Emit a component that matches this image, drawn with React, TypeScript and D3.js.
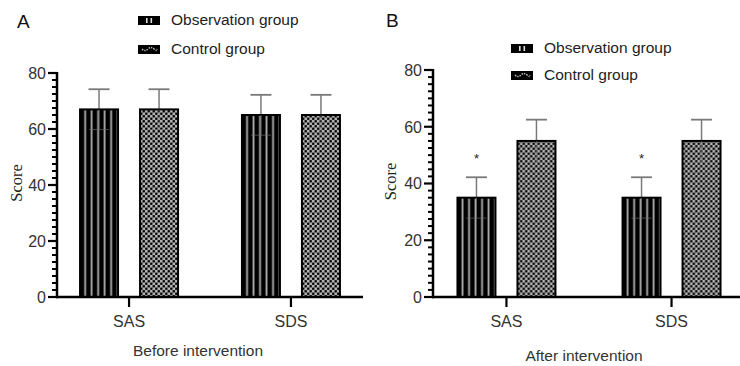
import React from 'react'
import * as d3 from 'd3'

const categories = ['SAS', 'SDS']
const groups = ['Observation group', 'Control group']

const beforeMeans = [
  [67, 67],
  [65, 65],
]
const beforeSd = [
  [7.2, 7.2],
  [7.2, 7.2],
]
const afterMeans = [
  [35, 55],
  [35, 55],
]
const afterSd = [
  [7.2, 7.5],
  [7.2, 7.5],
]
const afterStars = [
  [true, false],
  [true, false],
]
const yTicks = [0, 20, 40, 60, 80]

const sans = 'Liberation Sans, Arial, sans-serif'
const serif = 'Liberation Serif, Times New Roman, serif'

type PanelProps = {
  id: string
  letter: string
  letterPos: [number, number]
  xTitle: string
  xTitlePos: [number, number]
  axisX: [number, number]
  axisY: [number, number]
  means: number[][]
  sds: number[][]
  stars?: boolean[][]
  legendX: number
  legendY: [number, number]
  scoreX: number
}

const Panel = ({ id, letter, letterPos, xTitle, xTitlePos, axisX, axisY, means, sds, stars, legendX, legendY, scoreX }: PanelProps) => {
  const y = d3.scaleLinear().domain([0, 80]).range(axisY)
  const x = d3.scalePoint<string>().domain(categories).range(axisX).padding(0.445)
  const inner = d3.scaleBand<string>().domain(groups).range([-50, 50]).paddingInner(1 / 3).paddingOuter(0)
  const bw = inner.bandwidth()
  const minor = d3.range(0, 80.01, 2.5).filter((v) => v % 20 !== 0)
  const yBase = y(0)

  return (
    <g>
      <defs>
        {categories.map((c, ci) => (
          <React.Fragment key={c}>
            <pattern
              id={`${id}-stripe-${ci}`}
              patternUnits="userSpaceOnUse"
              x={x(c)! + inner(groups[0])! + 1}
              y={0}
              width={6.5}
              height={10}
            >
              <rect width={6.5} height={10} fill="#000" />
              <rect x={4.2} width={1.8} height={10} fill="#b0b0b0" />
            </pattern>
            <pattern
              id={`${id}-check-${ci}`}
              patternUnits="userSpaceOnUse"
              x={x(c)! + inner(groups[1])! + 1}
              y={0}
              width={5}
              height={5}
            >
              <rect width={5} height={5} fill="#3a3a3a" />
              <rect x={0} y={0} width={2.5} height={2.5} fill="#b4b4b4" />
              <rect x={2.5} y={2.5} width={2.5} height={2.5} fill="#b4b4b4" />
              <circle cx={3.75} cy={1.25} r={1} fill="#000" />
              <circle cx={1.25} cy={3.75} r={1} fill="#000" />
            </pattern>
          </React.Fragment>
        ))}
      </defs>

      <text x={letterPos[0]} y={letterPos[1]} fontFamily={sans} fontSize={19} fill="#111">
        {letter}
      </text>

      {/* legend */}
      {groups.map((g, gi) => (
        <g key={g} transform={`translate(${legendX}, ${legendY[gi]})`}>
          <rect x={0} y={-9} width={22} height={9} fill="#000" />
          {gi === 0 ? (
            <>
              <rect x={8} y={-7} width={1.6} height={5} fill="#ddd" />
              <rect x={12.5} y={-7} width={1.6} height={5} fill="#ddd" />
            </>
          ) : (
            <path d="M4,-5 Q7,-2 10,-5 T16,-5 T19,-5" fill="none" stroke="#bbb" strokeWidth={1.4} strokeDasharray="1.5,1" />
          )}
          <text x={33} y={0} fontFamily={sans} fontSize={15.5} fill="#222">
            {g}
          </text>
        </g>
      ))}

      {/* bars */}
      {categories.map((c, ci) =>
        groups.map((g, gi) => {
          const bx = x(c)! + inner(g)!
          const v = means[ci][gi]
          const sd = sds[ci][gi]
          const cx = bx + bw / 2
          return (
            <g key={`${c}-${g}`}>
              <line x1={cx} x2={cx} y1={y(v + sd)} y2={y(v)} stroke="#7a7a7a" strokeWidth={1.5} />
              <line x1={cx - 10.5} x2={cx + 10.5} y1={y(v + sd)} y2={y(v + sd)} stroke="#7a7a7a" strokeWidth={1.8} />
              <rect
                x={bx + 1}
                y={y(v)}
                width={bw - 2}
                height={yBase - y(v)}
                fill={gi === 0 ? `url(#${id}-stripe-${ci})` : `url(#${id}-check-${ci})`}
                stroke="#000"
                strokeWidth={2}
              />
              <line x1={cx} x2={cx} y1={y(v)} y2={y(v - sd)} stroke="#777" strokeWidth={1} opacity={0.6} />
              <line x1={cx - 10} x2={cx + 10} y1={y(v - sd)} y2={y(v - sd)} stroke="#777" strokeWidth={1} opacity={0.6} />
              {stars && stars[ci][gi] && (
                <text x={cx} y={y(v + sd) - 14} textAnchor="middle" fontFamily={sans} fontSize={13} fill="#222">
                  *
                </text>
              )}
            </g>
          )
        }),
      )}

      {/* y axis */}
      <line x1={axisX[0]} x2={axisX[0]} y1={yBase + 1.2} y2={y(80) - 1} stroke="#000" strokeWidth={2.5} />
      {yTicks.map((t) => (
        <g key={t}>
          <line x1={axisX[0] - 9} x2={axisX[0]} y1={y(t)} y2={y(t)} stroke="#000" strokeWidth={2.2} />
          <text x={axisX[0] - 11} y={y(t)} dy="0.36em" textAnchor="end" fontFamily={sans} fontSize={16} fill="#333">
            {t}
          </text>
        </g>
      ))}
      {minor.map((t) => (
        <line key={t} x1={axisX[0] - 5} x2={axisX[0]} y1={y(t)} y2={y(t)} stroke="#000" strokeWidth={2} />
      ))}
      <text
        transform={`translate(${scoreX}, ${(y(0) + y(80)) / 2 - 2}) rotate(-90)`}
        textAnchor="middle"
        fontFamily={serif}
        fontSize={16.5}
        fill="#222"
      >
        Score
      </text>

      {/* x axis */}
      <line x1={axisX[0] - 1} x2={axisX[1]} y1={yBase} y2={yBase} stroke="#000" strokeWidth={2.5} />
      {categories.map((c) => (
        <g key={c}>
          <line x1={x(c)} x2={x(c)} y1={yBase} y2={yBase + 10} stroke="#000" strokeWidth={2.2} />
          <text x={x(c)} y={yBase + 30} textAnchor="middle" fontFamily={sans} fontSize={16} fill="#333">
            {c}
          </text>
        </g>
      ))}
      <text x={xTitlePos[0]} y={xTitlePos[1]} textAnchor="middle" fontFamily={sans} fontSize={15.5} fill="#333">
        {xTitle}
      </text>
    </g>
  )
}

export default function App() {
  return (
    <div style={{ position: 'absolute', left: 0, top: 0, width: 740, height: 366, background: '#fff' }}>
      <svg width={740} height={366} viewBox="0 0 740 366">
        <rect width={740} height={366} fill="#fff" />
        <Panel
          id="a"
          letter="A"
          letterPos={[17, 28]}
          xTitle="Before intervention"
          xTitlePos={[198, 356]}
          axisX={[57, 363]}
          axisY={[297, 73]}
          means={beforeMeans}
          sds={beforeSd}
          legendX={138}
          legendY={[25, 54]}
          scoreX={22}
        />
        <Panel
          id="b"
          letter="B"
          letterPos={[386, 27]}
          xTitle="After intervention"
          xTitlePos={[584, 361]}
          axisX={[433, 745]}
          axisY={[297, 70]}
          means={afterMeans}
          sds={afterSd}
          stars={afterStars}
          legendX={511}
          legendY={[53, 80]}
          scoreX={396}
        />
      </svg>
    </div>
  )
}
